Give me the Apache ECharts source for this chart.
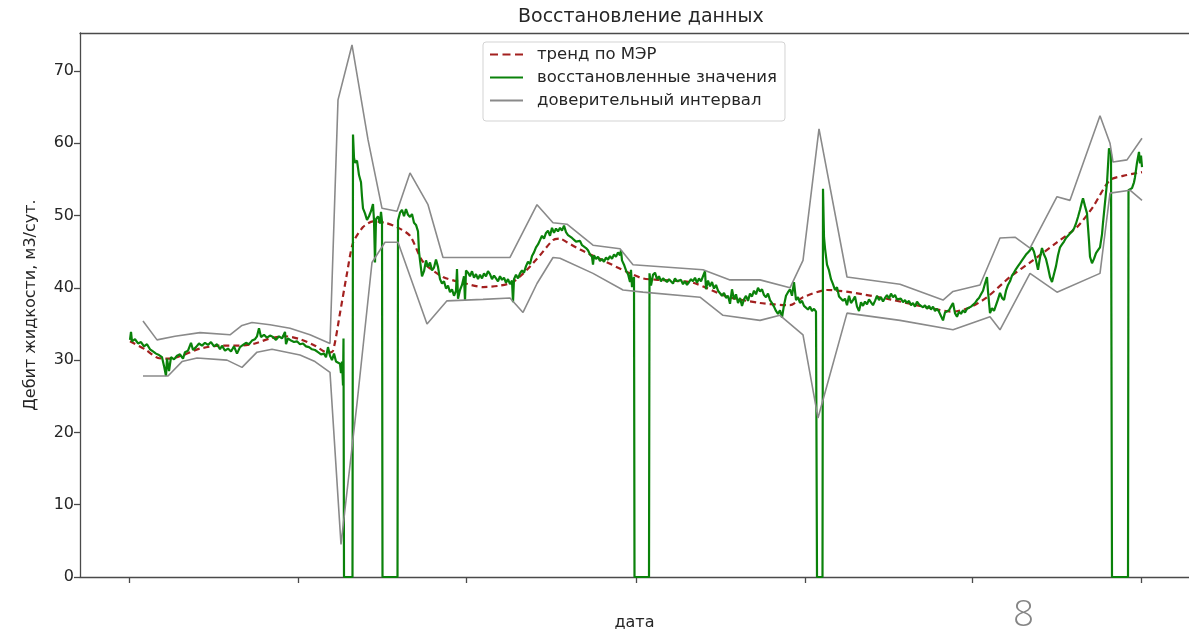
<!DOCTYPE html>
<html>
<head>
<meta charset="utf-8">
<script src="https://cdn.jsdelivr.net/npm/echarts@6/dist/echarts.min.js"></script>
<style>
html,body{margin:0;padding:0;background:#fff;}
#chart{width:1189px;height:629px;}
</style>
</head>
<body>
<div id="chart"></div>
<script>
// x = day number from the first tick; y = liquid rate, m3/day
const titleText = 'Восстановление данных';
const yAxisName = 'Дебит жидкости, м3/сут.';
const xAxisName = 'дата';
const seriesNames = ['тренд по МЭР', 'восстановленные значения', 'доверительный интервал'];
const xTickDays = [0, 169, 337, 507, 676, 843, 1012];
const yTickValues = [0, 10, 20, 30, 40, 50, 60, 70];
const pageNumber = '8';

const trend = [[1,32.6],[16,31.5],[29,30.3],[41,30.2],[56,30.8],[71,31.6],[91,32.0],[111,32.0],[126,32.3],[141,33.0],[156,33.3],[171,32.9],[186,32.0],[199,31.0],[204,31.3],[211,36.5],[218,42],[224,46.2],[234,48.4],[244,49.2],[256,49],[268,48.4],[281,47.2],[294,43.6],[314,41.5],[334,40.7],[354,40.1],[371,40.3],[384,40.8],[398,42.5],[411,44.5],[424,46.6],[431,46.8],[438,46.3],[451,45.3],[474,43.8],[498,42.2],[514,41.3],[531,41.1],[564,40.7],[598,38.8],[631,37.9],[661,37.6],[674,38.7],[698,39.7],[721,39.4],[761,38.4],[798,37.3],[824,36.7],[841,37.3],[858,38.7],[881,41.5],[904,43.8],[928,46.3],[948,48.4],[964,51.2],[981,54.9],[998,55.6],[1013,56]];

const restored = [[1,32.8],[2,33.9],[3,32.6],[6,32.9],[9,32.3],[12,32.5],[15,31.9],[18,32.2],[21,31.5],[24,31.2],[27,30.9],[30,30.7],[33,30.4],[35,29.2],[37,27.8],[38,30.2],[40,28.5],[42,30.4],[45,30.1],[48,30.6],[51,30.8],[54,30.2],[56,31.1],[59,31.3],[62,32.4],[64,31.4],[67,31.8],[70,32.3],[73,32.0],[76,32.4],[79,32.1],[82,32.5],[85,31.9],[88,32.2],[91,31.5],[93,32.0],[96,31.3],[99,31.6],[102,31.2],[105,31.9],[108,30.9],[111,31.8],[114,32.1],[117,32.4],[120,32.2],[123,32.7],[126,32.9],[128,33.3],[130,34.4],[132,33.2],[135,33.5],[138,33.1],[141,33.4],[144,33.2],[147,32.8],[150,33.3],[153,33.0],[156,33.9],[157,32.2],[159,33.0],[162,32.7],[165,32.5],[168,32.6],[171,32.2],[174,32.3],[177,31.9],[180,31.8],[183,31.5],[186,31.4],[189,31.1],[192,30.8],[195,30.9],[197,30.4],[199,31.8],[201,30.6],[203,30.0],[205,30.9],[207,29.8],[209,29.6],[211,29.5],[212,28.2],[213,29.8],[214,26.5],[214.5,33],[215,0],[223.5,0],
[224,61.2],[225,58],[226,57.3],[228,57.6],[230,55.6],[232,54.6],[233,52.6],[234,51.0],[236,50.3],[238,49.4],[240,49.9],[242,50.6],[244,51.6],[245,49.3],[246,43.5],[247,49.5],[249,49.9],[251,48.9],[252,50.5],[253,49.2],[253.5,0],[268.5,0],[269,49.3],[271,50.4],[273,50.8],[275,49.9],[277,50.9],[279,50.1],[281,49.8],[283,50.2],[285,49.0],[287,48.7],[289,47.8],[290,45.0],[291,43.8],[293,41.6],[295,42.3],[297,43.8],[299,42.9],[301,43.5],[303,42.4],[305,42.8],[307,43.9],[309,42.9],[311,41.2],[313,40.6],[315,40.9],[317,39.9],[319,40.3],[321,39.4],[323,39.8],[325,38.9],[327,39.6],[328,42.6],[329,38.5],[331,39.7],[333,40.4],[335,41.6],[336,38.2],[337,42.4],[339,42.1],[341,41.6],[343,42.3],[345,41.4],[347,41.9],[349,41.2],[351,41.8],[353,41.3],[355,42.0],[357,41.6],[359,42.3],[361,41.9],[363,41.2],[365,41.7],[367,41.3],[369,40.9],[371,41.6],[373,41.1],[375,41.4],[377,40.7],[379,41.2],[381,40.5],[383,41.0],[384,38.0],[385,41.2],[387,41.8],[389,41.3],[391,42.0],[393,42.4],[395,42.1],[397,43.0],[399,43.6],[401,43.3],[403,44.4],[405,44.9],[407,45.6],[409,46.0],[411,46.6],[413,47.2],[415,46.8],[417,47.6],[419,47.9],[421,47.2],[423,48.3],[425,47.6],[427,48.2],[429,47.8],[431,48.3],[433,47.9],[435,48.6],[437,47.7],[439,47.3],[441,47.5],[443,46.9],[445,47.0],[447,46.4],[449,46.2],[451,46.5],[453,45.9],[455,46.1],[457,45.5],[459,45.2],[461,44.6],[463,44.3],[464,43.2],[465,44.5],[467,44.0],[469,44.3],[471,43.7],[473,44.0],[475,43.6],[477,44.2],[479,43.9],[481,44.4],[483,44.0],[485,44.6],[487,44.3],[489,44.9],[491,44.5],[492,45.2],[493,43.8],[495,43.2],[497,42.4],[499,41.9],[501,40.8],[502,42.5],[503,40.1],[504,41.1],[505,41.5],[505.5,0],[520,0],
[520.5,42.0],[522,40.3],[524,41.8],[526,42.1],[528,41.2],[530,41.6],[532,40.9],[534,41.3],[536,41.5],[538,40.8],[540,41.2],[542,41.0],[544,40.6],[546,41.3],[548,40.9],[550,40.7],[552,41.1],[554,40.5],[556,40.9],[558,40.4],[560,40.8],[562,41.2],[564,40.9],[566,41.4],[568,40.7],[570,41.3],[572,40.9],[574,41.6],[576,42.3],[577,39.8],[579,41.0],[581,40.2],[583,40.8],[585,39.9],[587,40.4],[589,39.6],[591,39.8],[593,38.9],[595,39.3],[597,38.6],[599,38.9],[601,37.8],[603,39.8],[605,38.4],[607,39.1],[609,37.9],[611,38.6],[613,37.5],[615,38.4],[617,38.9],[619,38.2],[621,39.2],[623,38.8],[625,39.6],[627,39.1],[629,40.0],[631,39.5],[633,39.8],[635,39.0],[637,38.7],[639,39.2],[641,38.3],[643,37.9],[645,37.4],[647,36.8],[649,36.4],[651,36.9],[653,35.9],[655,37.6],[657,38.9],[659,39.4],[661,39.8],[663,38.9],[665,40.8],[667,38.3],[669,38.7],[671,37.9],[673,38.2],[675,37.5],[677,37.3],[679,37.0],[681,37.4],[683,36.8],[685,37.1],[687,36.7],[688,0],[693.5,0],
[694,53.7],[695,47],[696,45.5],[698,43.2],[700,42.4],[702,41.2],[704,40.5],[706,39.7],[708,40.1],[710,38.8],[712,39.0],[714,38.2],[716,38.5],[718,37.6],[720,38.9],[722,37.9],[724,38.3],[726,38.8],[728,37.4],[730,36.8],[732,38.0],[734,37.5],[736,38.1],[738,37.7],[740,38.4],[742,38.0],[744,37.6],[746,38.2],[748,38.9],[750,38.3],[752,38.7],[754,38.1],[756,38.6],[758,39.0],[760,38.5],[762,39.2],[764,38.7],[766,39.0],[768,38.4],[770,38.3],[772,38.5],[774,38.0],[776,38.3],[778,37.9],[780,38.2],[782,37.6],[784,37.9],[786,37.4],[788,38.1],[790,37.7],[792,37.9],[794,37.3],[796,37.6],[798,37.1],[800,37.5],[802,37.0],[804,37.4],[806,36.8],[808,37.1],[810,36.7],[812,36.9],[814,35.5],[816,36.6],[818,36.4],[820,36.9],[822,37.4],[824,37.9],[826,36.5],[828,36.0],[830,36.7],[832,36.4],[834,36.9],[836,36.6],[838,37.1],[840,36.9],[842,37.4],[844,37.2],[846,37.9],[848,38.3],[850,38.6],[852,39.1],[854,39.6],[856,40.6],[858,41.5],[859,39.5],[861,36.5],[863,37.2],[865,36.8],[867,37.6],[869,38.4],[871,39.3],[873,38.6],[875,38.3],[877,39.6],[879,40.4],[881,40.9],[883,41.7],[885,42.1],[887,42.6],[889,43.0],[891,43.4],[893,43.8],[895,44.0],[897,44.6],[899,44.9],[901,45.2],[903,45.6],[905,45.0],[907,43.8],[909,42.5],[911,44.2],[913,45.5],[915,44.6],[917,44.0],[919,42.8],[921,41.5],[923,40.8],[925,41.9],[927,43.0],[929,44.5],[931,45.6],[933,46.0],[935,46.4],[937,46.9],[939,47.2],[941,47.5],[943,47.8],[945,48.2],[947,48.9],[949,49.8],[951,50.8],[953,51.9],[954,52.4],[956,51.3],[958,50.3],[960,46.5],[961,44.3],[963,43.4],[965,44.0],[967,44.8],[969,45.2],[971,45.6],[973,47.4],[974,49.0],[976,51.8],[978,54.5],[980,59.3],[982,58.5],[983,0],[999,0],[999.5,53.5],[1001,53.7],[1003,53.8],[1005,54.6],[1006,55.3],[1008,57.3],[1010,58.8],[1011,57.2],[1012,58.3],[1013,56.7]];

const upperBound = [[14,35.4],[28,32.8],[46,33.3],[71,33.8],[101,33.5],[113,34.8],[123,35.2],[141,34.9],[161,34.4],[181,33.5],[201,32.3],[209,66],[223,73.6],[239,60.5],[253,51],[268,50.6],[281,55.9],[299,51.5],[314,44.2],[341,44.2],[381,44.2],[408,51.5],[424,49],[438,48.8],[464,45.9],[491,45.4],[504,43.2],[574,42.5],[601,41.1],[631,41.1],[661,40],[674,43.8],[690,62],[718,41.5],[771,40.5],[814,38.3],[824,39.5],[851,40.4],[871,46.9],[886,47],[901,45.5],[928,52.6],[941,52.1],[971,63.8],[981,60],[984,57.4],[998,57.7],[1013,60.7]];

const lowerBound = [[14,27.8],[39,27.8],[53,29.8],[68,30.3],[98,30.0],[113,29.0],[128,31.1],[143,31.5],[171,30.7],[186,29.8],[201,28.3],[212,4.5],[228,24],[243,43.5],[256,46.3],[269,46.3],[298,35],[318,38.2],[354,38.4],[381,38.6],[394,36.6],[408,40.6],[424,44.2],[431,44.1],[464,42],[494,39.7],[514,39.4],[571,38.7],[594,36.2],[631,35.5],[651,36.2],[674,33.5],[689,22],[718,36.5],[771,35.5],[824,34.2],[861,36],[871,34.2],[901,42],[928,39.4],[971,42],[981,53.1],[1001,53.5],[1013,52.1]];

const FONT = '"DejaVu Sans", sans-serif';
const TEXT = '#262626';
const AXIS = '#4a4a4a';
const C_TREND = '#a3201f';
const C_REST = '#0a820a';
const C_CI = '#8a8a8a';
const X_MIN = -49, X_MAX = 1060, Y_MIN = 0, Y_MAX = 75.25;

const ICON_SOLID = 'path://M0,0h33v2.2h-33z';
const ICON_DASH = 'path://M0,0h8v2.2h-8zM12.5,0h8v2.2h-8zM25,0h8v2.2h-8z';

const chart = echarts.init(document.getElementById('chart'), null, {renderer: 'canvas'});
chart.setOption({
  animation: false,
  backgroundColor: '#ffffff',
  title: {
    text: titleText,
    left: 513,
    top: 3,
    textStyle: {fontFamily: FONT, fontSize: 19, fontWeight: 'normal', color: TEXT}
  },
  legend: {
    orient: 'vertical',
    left: 483,
    top: 42,
    padding: [4, 8, 12, 7],
    itemGap: 6,
    itemWidth: 33,
    itemHeight: 14,
    backgroundColor: 'rgba(255,255,255,0.85)',
    borderColor: '#d3d3d3',
    borderWidth: 1,
    borderRadius: 3,
    textStyle: {fontFamily: FONT, fontSize: 16.5, color: TEXT, padding: [0, 0, 0, 9]},
    data: [
      {name: seriesNames[0], icon: ICON_DASH},
      {name: seriesNames[1], icon: ICON_SOLID},
      {name: seriesNames[2], icon: ICON_SOLID}
    ]
  },
  grid: {left: 80, right: 0, top: 33, bottom: 52, show: false, outerBoundsMode: 'none', containLabel: false},
  xAxis: [{
    type: 'value',
    min: X_MIN,
    max: X_MAX,
    name: xAxisName,
    nameLocation: 'middle',
    nameGap: 38,
    nameTextStyle: {fontFamily: FONT, fontSize: 16, color: TEXT},
    axisLine: {show: true, onZero: false, lineStyle: {color: AXIS, width: 1.3}},
    axisTick: {show: true, length: 6, lineStyle: {color: AXIS, width: 1.3}, customValues: xTickDays},
    axisLabel: {show: false},
    splitLine: {show: false}
  }, {
    type: 'value',
    position: 'top',
    min: X_MIN,
    max: X_MAX,
    axisLine: {show: true, onZero: false, lineStyle: {color: AXIS, width: 1.3}},
    axisTick: {show: false},
    axisLabel: {show: false},
    splitLine: {show: false}
  }],
  yAxis: {
    type: 'value',
    min: Y_MIN,
    max: Y_MAX,
    name: yAxisName,
    nameLocation: 'middle',
    nameGap: 41,
    nameTextStyle: {fontFamily: FONT, fontSize: 16, color: TEXT},
    axisLine: {show: true, onZero: false, lineStyle: {color: AXIS, width: 1.3}},
    axisTick: {show: true, length: 6, lineStyle: {color: AXIS, width: 1.3}, customValues: yTickValues},
    axisLabel: {fontFamily: FONT, fontSize: 16, color: TEXT, margin: 6, customValues: yTickValues},
    splitLine: {show: false}
  },
  series: [
    {
      name: seriesNames[0], type: 'line', data: trend, symbol: 'none', smooth: 0.25,
      lineStyle: {color: C_TREND, width: 2.2, type: [6, 4]},
      itemStyle: {color: C_TREND}, z: 2
    },
    {
      name: seriesNames[1], type: 'line', data: restored, symbol: 'none',
      lineStyle: {color: C_REST, width: 2.2},
      itemStyle: {color: C_REST}, z: 3
    },
    {
      name: seriesNames[2], type: 'line', data: upperBound, symbol: 'none',
      lineStyle: {color: C_CI, width: 1.6},
      itemStyle: {color: C_CI}, z: 4
    },
    {
      name: seriesNames[2], type: 'line', data: lowerBound, symbol: 'none',
      lineStyle: {color: C_CI, width: 1.6},
      itemStyle: {color: C_CI}, z: 4
    }
  ],
  graphic: [{
    type: 'text',
    left: 1013,
    top: 597,
    style: {text: pageNumber, fontFamily: '"Open Sans", sans-serif', fontSize: 37, fontWeight: 300, fill: '#858585'}
  }]
});
</script>
</body>
</html>
